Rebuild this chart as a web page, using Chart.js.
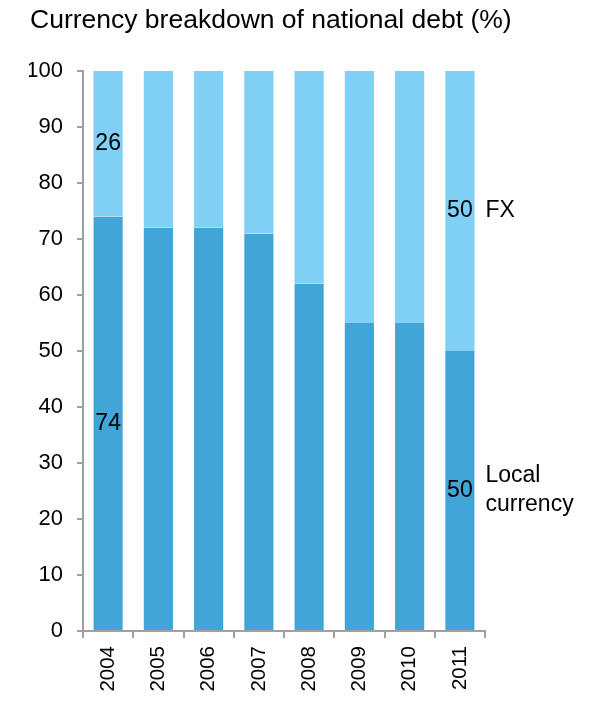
<!DOCTYPE html>
<html>
<head>
<meta charset="utf-8">
<script src="https://cdn.jsdelivr.net/npm/chart.js@4.4.1/dist/chart.umd.min.js"></script>
<style>
  html, body { margin: 0; padding: 0; background: #ffffff; }
  #wrap { width: 591px; height: 702px; position: relative; }
</style>
</head>
<body>
<div id="wrap"><canvas id="c" width="591" height="702"></canvas></div>
<script>
// ---- Data ----
const categories = ['2004', '2005', '2006', '2007', '2008', '2009', '2010', '2011'];
const localCurrency = [74, 72, 72, 71, 62, 55, 55, 50];
const fx = [26, 28, 28, 29, 38, 45, 45, 50];
const yTicks = [0, 10, 20, 30, 40, 50, 60, 70, 80, 90, 100];
const seriesNames = ['Local currency', 'FX'];
const sideLabels = [['Local', 'currency'], ['FX']];
const valueLabelCategories = ['2004', '2011'];
const titleText = 'Currency breakdown of national debt (%)';

const FONT = "'Liberation Sans', Arial, Helvetica, sans-serif";
const AXIS = '#a0a0a0';

const titleDraw = {
  id: 'titleDraw',
  afterDraw(chart) {
    const ctx = chart.ctx;
    ctx.save();
    ctx.fillStyle = '#000';
    ctx.font = '26.5px ' + FONT;
    ctx.textAlign = 'left';
    ctx.textBaseline = 'alphabetic';
    ctx.fillText(titleText, 30, 28);
    ctx.restore();
  }
};

const valueLabels = {
  id: 'valueLabels',
  afterDatasetsDraw(chart) {
    const ctx = chart.ctx;
    ctx.save();
    ctx.fillStyle = '#000';
    ctx.font = '23px ' + FONT;
    ctx.textBaseline = 'middle';
    chart.data.datasets.forEach((ds, di) => {
      const meta = chart.getDatasetMeta(di);
      meta.data.forEach((bar, i) => {
        const cat = chart.data.labels[i];
        if (!valueLabelCategories.includes(cat)) return;
        const yc = (bar.y + bar.base) / 2;
        ctx.textAlign = 'center';
        ctx.fillText(String(ds.data[i]), bar.x, yc);
        if (i === chart.data.labels.length - 1) {
          const lines = sideLabels[di];
          const lh = 29;
          const x0 = bar.x + bar.width / 2 + 10;
          ctx.textAlign = 'left';
          lines.forEach((t, k) => {
            ctx.fillText(t, x0, yc + (k - (lines.length - 1) / 2) * lh);
          });
        }
      });
    });
    ctx.restore();
  }
};

new Chart(document.getElementById('c'), {
  type: 'bar',
  data: {
    labels: categories,
    datasets: [
      { label: seriesNames[0], data: localCurrency, backgroundColor: '#42a5d7',
        borderColor: 'rgba(255,255,255,0.5)', borderWidth: {left: 1, right: 1}, borderSkipped: false,
        barPercentage: 0.62, categoryPercentage: 1.0 },
      { label: seriesNames[1], data: fx, backgroundColor: '#80cff4',
        borderColor: 'rgba(255,255,255,0.5)', borderWidth: {left: 1, right: 1}, borderSkipped: false,
        barPercentage: 0.62, categoryPercentage: 1.0 }
    ]
  },
  options: {
    responsive: false,
    animation: false,
    devicePixelRatio: 1,
    layout: { padding: { left: 29, right: 106, top: 71, bottom: 0 } },
    plugins: {
      legend: { display: false },
      tooltip: { enabled: false },
      title: { display: false }
    },
    scales: {
      x: {
        stacked: true,
        afterFit(s) { s.height = 71; },
        border: { display: true, color: AXIS, width: 2 },
        grid: { display: true, drawOnChartArea: false, drawTicks: true, tickLength: 7, color: AXIS, lineWidth: 2, offset: true },
        ticks: { color: '#000', font: { family: FONT, size: 20.5 }, minRotation: 90, maxRotation: 90, padding: 8 }
      },
      y: {
        stacked: true,
        min: 0, max: 100,
        afterFit(s) { s.width = 83 - 29; },
        afterBuildTicks(s) { s.ticks = yTicks.map(v => ({ value: v })); },
        border: { display: true, color: AXIS, width: 2 },
        grid: { display: true, drawOnChartArea: false, drawTicks: true, tickLength: 6, color: AXIS, lineWidth: 2 },
        ticks: { color: '#000', font: { family: FONT, size: 22 }, padding: 14 }
      }
    }
  },
  plugins: [valueLabels, titleDraw]
});
</script>
</body>
</html>
